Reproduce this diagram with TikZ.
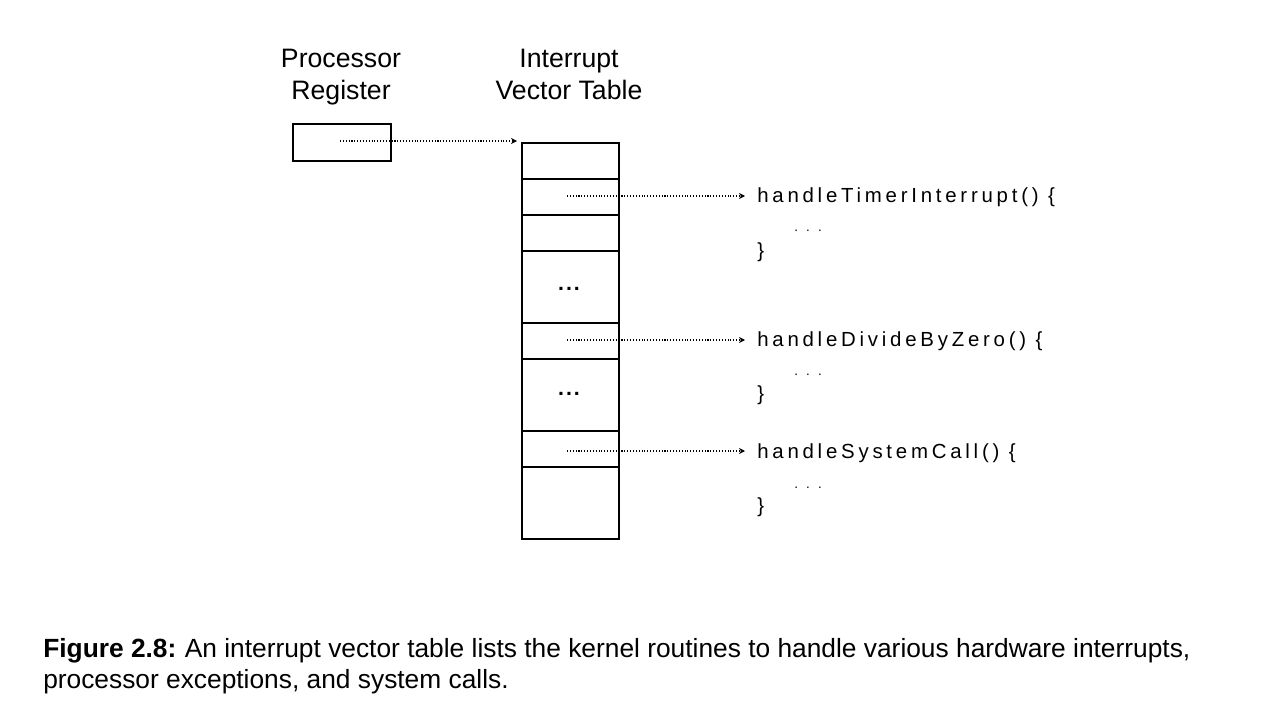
\documentclass[tikz,border=0pt]{standalone}
\usepackage{fontspec}
\setmainfont{Liberation Sans}
\newfontfamily\codefont[LetterSpace=18.5]{Liberation Sans}
\usetikzlibrary{arrows.meta}
\begin{document}
\begin{tikzpicture}[x=0.75pt,y=-0.75pt,
  cell/.style={draw,line width=1.4pt,minimum width=97*0.75pt,inner sep=0pt,anchor=north west},
  title/.style={font=\fontsize{20}{24}\selectfont,anchor=base,inner sep=0pt},
  code/.style={font=\fontsize{15.3}{17}\selectfont\codefont,anchor=base west,inner sep=0pt},
  ptr/.style={line width=1.1pt,dash pattern=on 0.8pt off 1.35pt,-{Stealth[length=4.5pt,width=4.5pt]}},
  captext/.style={font=\fontsize{19.75}{23.3}\selectfont,anchor=north west,inner sep=0pt,align=left},
  vdots/.style={font=\bfseries\fontsize{16}{18}\selectfont,anchor=base,inner sep=0pt}]
\useasboundingbox (0,0) rectangle (1272,725);
% titles
\node[title] (t1) at (341,67) {Processor};
\node[title] (t1b) at (341,99) {Register};
\node[title] (t2) at (569,67) {Interrupt};
\node[title] (t2b) at (569,99) {Vector Table};
% processor register
\node[draw,line width=1.4pt,minimum width=98*0.75pt,minimum height=37*0.75pt,inner sep=0pt,anchor=north west] (reg) at (292,123) {};
\coordinate (rs) at (340,141);
\coordinate (tt) at (517,141);
\draw[ptr] (rs) -- (tt);
% table
\node[cell,minimum height=36*0.75pt] (c1) at (521,142) {};
\node[cell,minimum height=36*0.75pt] (c2) at (521,178) {};
\node[cell,minimum height=36*0.75pt] (c3) at (521,214) {};
\node[cell,minimum height=72*0.75pt] (c4) at (521,250) {};
\node[cell,minimum height=36*0.75pt] (c5) at (521,322) {};
\node[cell,minimum height=72*0.75pt] (c6) at (521,358) {};
\node[cell,minimum height=36*0.75pt] (c7) at (521,430) {};
\node[cell,minimum height=72*0.75pt] (c8) at (521,466) {};
\node[vdots] (v1) at (569,290) {.\hspace{1.5pt}.\hspace{1.5pt}.};
\node[vdots] (v2) at (569,395) {.\hspace{1.5pt}.\hspace{1.5pt}.};
% code
\node[code] (h1) at (757,202) {handleTimerInterrupt() \{};
\node[code] (d1) at (794,231) {\fontsize{10}{12}\selectfont . . .};
\node[code] (e1) at (757,257) {\}};
\node[code] (h2) at (757,346) {handleDivideByZero() \{};
\node[code] (d2) at (794,375) {\fontsize{10}{12}\selectfont . . .};
\node[code] (e2) at (757,400) {\}};
\node[code] (h3) at (757,458) {handleSystemCall() \{};
\node[code] (d3) at (794,488) {\fontsize{10}{12}\selectfont . . .};
\node[code] (e3) at (757,512) {\}};
% pointers
\coordinate (s1) at (567,196);
\coordinate (s2) at (567,340);
\coordinate (s3) at (567,451);
\draw[ptr] (s1) -- ++(178,0) coordinate (a1);
\draw[ptr] (s2) -- ++(178,0) coordinate (a2);
\draw[ptr] (s3) -- ++(178,0) coordinate (a3);
% caption
\node[captext] (cp) at (43,638) {\textbf{Figure 2.8:}\hspace{-1pt} An interrupt vector table lists the kernel routines to handle various hardware interrupts,\\processor exceptions, and system calls.};
\end{tikzpicture}
\end{document}
